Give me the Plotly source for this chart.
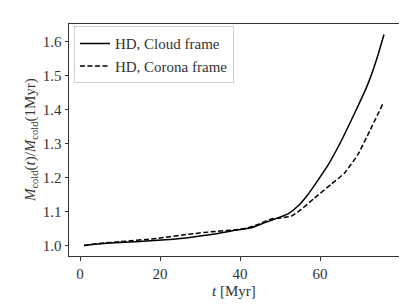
import plotly.graph_objects as go

t_cloud = [1, 5, 10, 19.5, 27, 32.8, 39.5, 42.8, 46.2, 49.5, 52, 54.5, 57, 59.5, 62, 65.3, 68.7, 71.6, 72.8, 74.5, 76]
m_cloud = [1.000, 1.005, 1.009, 1.015, 1.023, 1.032, 1.046, 1.052, 1.067, 1.081, 1.093, 1.116, 1.150, 1.192, 1.236, 1.307, 1.390, 1.464, 1.500, 1.560, 1.620]

t_corona = [1, 5, 10, 19.5, 27, 32.8, 39.5, 42, 44.5, 47.8, 50.3, 52.8, 55.3, 58.7, 62.8, 66.2, 69.5, 72.4, 75.75]
m_corona = [1.000, 1.006, 1.011, 1.021, 1.033, 1.040, 1.047, 1.052, 1.062, 1.078, 1.081, 1.086, 1.106, 1.140, 1.180, 1.214, 1.268, 1.336, 1.417]

x_ticks = [0, 20, 40, 60]
y_ticks = [1.0, 1.1, 1.2, 1.3, 1.4, 1.5, 1.6]

font = "Liberation Serif"
fs = 15
tc = "#333"

fig = go.Figure()
fig.add_trace(go.Scatter(x=t_cloud, y=m_cloud, mode="lines", name="HD, Cloud frame",
                         line=dict(color="black", width=1.5, shape="spline", smoothing=0.5)))
fig.add_trace(go.Scatter(x=t_corona, y=m_corona, mode="lines", name="HD, Corona frame",
                         line=dict(color="black", width=1.5, dash="5px,2.5px", shape="spline", smoothing=0.5)))

axis_common = dict(showgrid=False, zeroline=False, showline=True, mirror=True,
                   linecolor="#333", linewidth=1, ticks="outside", ticklen=3.5,
                   tickcolor="#333", tickfont=dict(family=font, size=fs, color=tc))

fig.update_layout(
    width=407, height=305,
    margin=dict(l=61, r=16, t=16, b=57),
    plot_bgcolor="white", paper_bgcolor="white",
    font=dict(family=font, size=fs, color=tc),
    xaxis=dict(range=[-2.75, 79.75], tickvals=x_ticks, ticktext=[str(v) for v in x_ticks],
               **axis_common),
    yaxis=dict(range=[0.969, 1.651], tickvals=y_ticks, ticktext=[f"{v:.1f}" for v in y_ticks],
               **axis_common),
    legend=dict(x=0.015, y=0.99, xanchor="left", yanchor="top",
                bgcolor="white", bordercolor="#d0d0d0", borderwidth=1,
                font=dict(family=font, size=fs, color=tc),
                tracegroupgap=0, itemwidth=30),
    showlegend=True,
    annotations=[
        dict(text="<i>t</i> [Myr]", xref="paper", yref="paper", x=0.5, y=-0.151,
             xanchor="center", yanchor="middle", showarrow=False,
             font=dict(family=font, size=fs, color=tc)),
        dict(text="<i>M</i><sub>cold</sub>(<i>t</i>)/<i>M</i><sub>cold</sub>(1Myr)",
             xref="paper", yref="paper", x=-0.115, y=0.5, textangle=-90,
             xanchor="center", yanchor="middle", showarrow=False,
             font=dict(family=font, size=fs, color=tc)),
    ],
)

fig.write_html("out.html")
